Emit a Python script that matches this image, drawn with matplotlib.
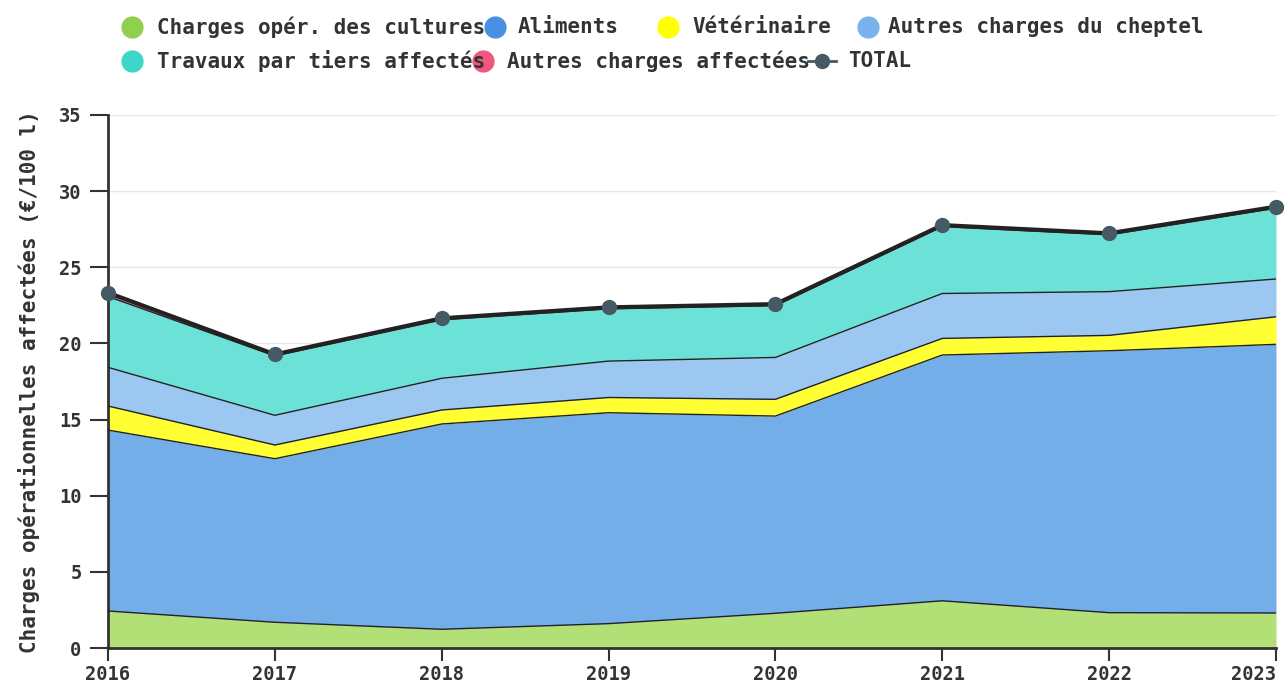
"""Charges opérationnelles affectées, 2016-2023 (stacked areas + total)"""
import numpy as np
import matplotlib
matplotlib.use("Agg")
import matplotlib.pyplot as plt
from matplotlib.lines import Line2D

years = [2016, 2017, 2018, 2019, 2020, 2021, 2022, 2023]
cultures = [2.43, 1.69, 1.23, 1.60, 2.28, 3.10, 2.32, 2.30]
aliments = [11.88, 10.74, 13.48, 13.85, 12.95, 16.14, 17.20, 17.64]
veterinaire = [1.58, 0.90, 0.92, 1.00, 1.10, 1.09, 1.01, 1.81]
autres_cheptel = [2.54, 1.95, 2.08, 2.39, 2.75, 2.95, 2.87, 2.48]
travaux = [4.65, 3.90, 3.84, 3.43, 3.40, 4.39, 3.73, 4.65]
autres_affectees = [0.25, 0.10, 0.10, 0.10, 0.10, 0.10, 0.10, 0.10]
total = [23.33, 19.28, 21.65, 22.37, 22.58, 27.77, 27.23, 28.98]

labels = ["Charges opér. des cultures", "Aliments", "Vétérinaire",
          "Autres charges du cheptel", "Travaux par tiers affectés",
          "Autres charges affectées"]
marker_colors = ["#8fd14f", "#4a90e2", "#ffff00", "#7ab3ec", "#3dd6c8", "#f0577f"]
area_colors = ["#b2df76", "#74aee8", "#ffff33", "#9cc7f0", "#6ce1d8", "#f37f9c"]

text_col = "#333333"
plt.rcParams["font.family"] = ["DejaVu Sans Mono", "DejaVu Sans"]
plt.rcParams["font.weight"] = "bold"

fig = plt.figure(figsize=(12.88, 6.84), dpi=100)
ax = fig.add_axes([108 / 1288, 36 / 684, 1168 / 1288, 533 / 684])

series = [cultures, aliments, veterinaire, autres_cheptel, travaux, autres_affectees]
base = np.zeros(len(years))
for vals, col in zip(series, area_colors):
    top = base + np.array(vals)
    ax.fill_between(years, base, top, color=col, lw=0, zorder=2)
    ax.plot(years, top, color="#222222", lw=1, zorder=3)
    base = top

ax.plot(years, total, color="#222222", lw=3, zorder=4)
ax.plot(years, total, "o", color="#455a64", ms=10, zorder=5, clip_on=False)

ax.set_xlim(2016, 2023)
ax.set_ylim(0, 35)
ax.set_yticks(range(0, 36, 5))
ax.set_xticks(years)
ax.grid(axis="y", color="#e6e6e6", lw=1, zorder=0)
ax.set_axisbelow(True)
for s in ["top", "right"]:
    ax.spines[s].set_visible(False)
for s in ["left", "bottom"]:
    ax.spines[s].set_color("#333333")
    ax.spines[s].set_linewidth(2)
ax.tick_params(axis="y", length=13, width=1.5, colors=text_col, labelsize=13.5, pad=6)
ax.tick_params(axis="x", length=9, width=1.5, colors=text_col, labelsize=13.5, pad=3)
ax.get_xticklabels()[-1].set_ha("right")
ax.set_ylabel("Charges opérationnelles affectées (€/100 l)", fontsize=15, color=text_col,
              fontweight="bold", labelpad=14)

# legend drawn by hand to keep the original overlapping placement
items = [
    (132, 27, 157, 0), (495, 27, 518, 1), (668, 27, 692, 2), (868, 27, 888, 3),
    (132, 61, 157, 4), (483, 61, 507, 5),
]
for mx, my, tx, i in items:
    fig.add_artist(Line2D([mx / 1288], [1 - my / 684], transform=fig.transFigure,
                          marker="o", ms=15, color=marker_colors[i], lw=0))
    fig.text(tx / 1288, 1 - my / 684, labels[i], fontsize=15, color=text_col,
             va="center", ha="left")
fig.add_artist(Line2D([808 / 1288, 836 / 1288], [1 - 61 / 684] * 2, transform=fig.transFigure,
                      color="#455a64", lw=2))
fig.add_artist(Line2D([822 / 1288], [1 - 61 / 684], transform=fig.transFigure,
                      marker="o", ms=10, color="#455a64", lw=0))
fig.text(848 / 1288, 1 - 61 / 684, "TOTAL", fontsize=15, color=text_col, va="center")

fig.savefig("out.png", dpi=100)
